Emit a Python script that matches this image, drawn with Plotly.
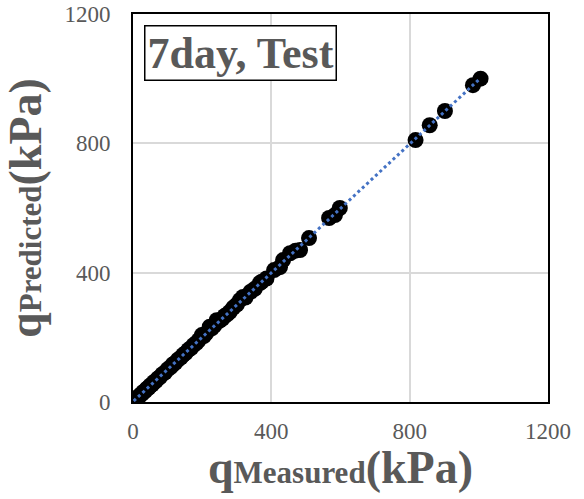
import numpy as np
import plotly.graph_objects as go

# Measured vs predicted bearing capacity (kPa), 7day test set
q_measured = [2, 5, 8, 12, 15, 18, 22, 26, 30, 35, 40, 45, 50, 55, 60, 66, 72, 78, 85, 92,
              100, 108, 115, 122, 130, 138, 145, 152, 160, 168, 175, 183, 190, 199, 205, 212,
              222, 228, 235, 242, 250, 258, 265, 272, 280, 290, 300, 309, 318, 325, 340, 352,
              367, 372, 386, 408, 425, 434, 454, 470, 483, 509, 567, 584, 598, 817, 858, 902,
              983, 1005]
q_predicted = [1, 4, 9, 11, 16, 17, 23, 25, 31, 34, 41, 44, 51, 54, 61, 65, 73, 77, 86, 91,
               101, 107, 116, 121, 131, 137, 146, 151, 161, 167, 176, 182, 191, 207, 204, 213,
               233, 228, 236, 253, 251, 257, 266, 271, 279, 292, 301, 315, 325, 323, 341, 350,
               368, 372, 382, 408, 417, 439, 460, 468, 470, 507, 569, 578, 600, 810, 856, 900,
               980, 1000]

x_ticks = [0, 400, 800, 1200]
y_ticks = [0, 400, 800, 1200]

grey = "#595959"
font_family = "Liberation Serif, Times New Roman, serif"

slope, intercept = np.polyfit(q_measured, q_predicted, 1)
trend_x = [min(q_measured), max(q_measured)]
trend_y = [slope * v + intercept for v in trend_x]

fig = go.Figure()
fig.add_trace(go.Scatter(
    x=q_measured, y=q_predicted, mode="markers",
    marker=dict(size=16, color="black"),
    showlegend=False, hoverinfo="skip"))
fig.add_trace(go.Scatter(
    x=trend_x, y=trend_y, mode="lines",
    line=dict(color="#4472C4", width=3, dash="dot"),
    showlegend=False, hoverinfo="skip"))

axis_common = dict(
    range=[0, 1200], showgrid=True, gridcolor="#d9d9d9", gridwidth=1.5,
    zeroline=False, showline=True, linecolor="black", linewidth=2, mirror=True,
    tickfont=dict(family=font_family, size=23, color=grey),
    ticks="outside", tickcolor="rgba(0,0,0,0)", automargin=False,
)

fig.update_xaxes(**axis_common, tickvals=x_ticks, ticklen=7)
fig.update_yaxes(
    **axis_common, tickvals=y_ticks, ticklen=16,
    title=dict(text="q<span style='font-size:31px'>Predicted</span>(kPa)",
               font=dict(family=font_family, size=46, color=grey, weight="bold"),
               standoff=8))

# x-axis title as annotation for precise placement
fig.add_annotation(
    xref="paper", yref="paper", x=0.5, y=-0.17, xanchor="center", yanchor="middle",
    text="<b>q<span style='font-size:31px'>Measured</span>(kPa)</b>", showarrow=False,
    font=dict(family=font_family, size=46, color=grey))

fig.add_annotation(
    xref="paper", yref="paper", x=0.0265, y=0.9716, xanchor="left", yanchor="top",
    text="<b>7day, Test</b>", showarrow=False,
    font=dict(family=font_family, size=44, color=grey),
    bordercolor="black", borderwidth=1.5, borderpad=2, bgcolor="white")

fig.update_layout(
    width=584, height=499,
    margin=dict(l=133, r=36, t=14, b=97),
    plot_bgcolor="white", paper_bgcolor="white",
)

fig.write_html("out.html")
